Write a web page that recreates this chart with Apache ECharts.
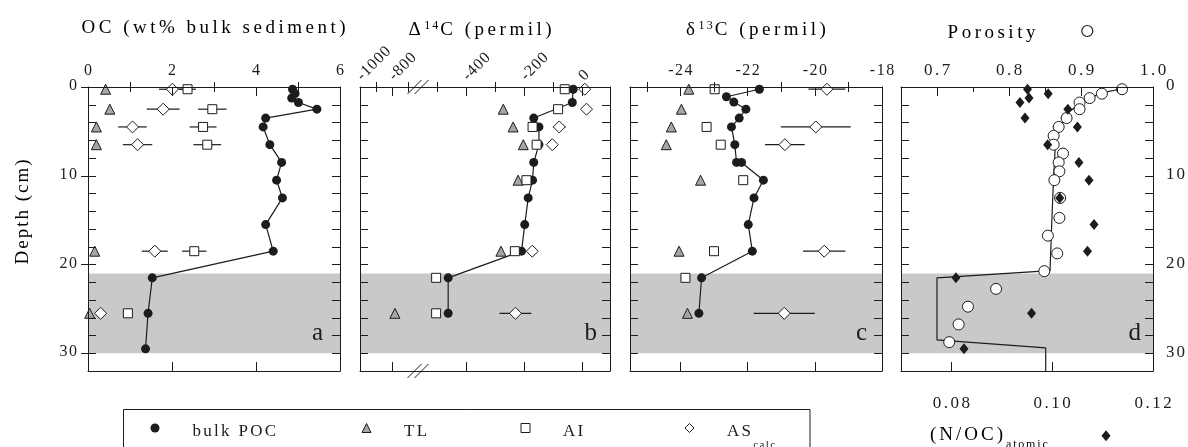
<!DOCTYPE html>
<html lang="en">
<head>
<meta charset="UTF-8" />
<title>Sediment core profiles</title>
<script src="https://cdn.jsdelivr.net/npm/echarts@6/dist/echarts.min.js"></script>
<style>html,body{margin:0;padding:0;background:#fff}</style>
</head>
<body>
<div id="chart" style="width:1188px;height:447px"></div>
<script>
// depths (cm)
const depthPOC = [0.25, 0.75, 1.25, 1.75, 2.5, 3.5, 4.5, 6.5, 8.5, 10.5, 12.5, 15.5, 18.5, 21.5, 25.5, 29.5]
const depthFrac = [0.25, 2.5, 4.5, 6.5, 18.5, 25.5]
const depthTicks = [0, 2, 4, 6, 8, 10, 12, 14, 16, 18, 20, 22, 24, 26, 28, 30, 32]
const depthLabels = [0, 10, 20, 30]
const turbidite = [21, 30]

// a: OC (wt% bulk sediment)
const ocPOC = [4.87, 4.93, 4.85, 5.01, 5.45, 4.23, 4.17, 4.33, 4.61, 4.49, 4.63, 4.23, 4.41, 1.53, 1.43, 1.37]
const ocTL = [0.42, 0.52, 0.2, 0.2, 0.16, 0.04]
const ocAI = [2.37, 2.96, 2.74, 2.84, 2.53, 0.95]
const ocAIerr = [0.2, 0.34, 0.32, 0.33, 0.29, 0]
const ocAS = [2.01, 1.79, 1.06, 1.18, 1.59, 0.3]
const ocASerr = [0.32, 0.39, 0.34, 0.35, 0.31, 0]

// b: Δ14C (permil)
const d14Depth = [0.25, 1.75, 3.5, 4.5, 6.5, 8.5, 10.5, 12.5, 15.5, 18.5, 21.5, 25.5]
const d14POC = [-30, -33, -166, -148, -148, -166, -170, -185, -197, -208, -461, -461]
const d14TLDepth = [2.5, 4.5, 6.5, 10.5, 18.5, 25.5]
const d14TL = [-271, -237, -202, -220, -279, -781]
const d14AIDepth = [0.25, 2.5, 4.5, 6.5, 10.5, 18.5, 21.5, 25.5]
const d14AI = [-59, -82, -170, -156, -191, -231, -505, -505]
const d14AIerr = [16, 0, 0, 0, 0, 0, 0, 0]
const d14AS = [10, 16, -78, -102, -171, -229]
const d14ASerr = [0, 0, 22, 0, 0, 55]

// c: δ13C (permil)
const d13Depth = [0.25, 1.1, 1.7, 2.5, 3.5, 4.5, 6.5, 8.5, 8.5, 10.5, 12.5, 15.5, 18.5, 21.5, 25.5]
const d13POC = [-21.65, -22.63, -22.41, -22.05, -22.25, -22.48, -22.38, -22.33, -22.18, -21.53, -21.81, -21.98, -21.86, -23.37, -23.45]
const d13TLDepth = [0.25, 2.5, 4.5, 6.5, 10.5, 18.5, 25.5]
const d13TL = [-23.75, -23.97, -24.27, -24.42, -23.4, -24.04, -23.79]
const d13AIDepth = [0.25, 4.5, 6.5, 10.5, 18.5, 21.5]
const d13AI = [-22.98, -23.22, -22.8, -22.13, -23.0, -23.85]
const d13ASDepth = [0.25, 4.5, 6.5, 18.5, 25.5]
const d13AS = [-19.64, -19.97, -20.89, -19.72, -20.91]
const d13ASerr = [0.55, 1.04, 0.59, 0.63, 0.91]

// d: porosity and (N/OC) atomic
const porDepth = [0.25, 0.75, 1.25, 1.75, 2.5, 3.5, 4.5, 5.5, 6.5, 7.5, 8.5, 9.5, 10.5, 12.5, 14.75, 16.75, 18.75, 20.75, 22.75, 24.75, 26.75, 28.75]
const porosity = [0.957, 0.929, 0.912, 0.898, 0.898, 0.88, 0.869, 0.862, 0.862, 0.875, 0.869, 0.87, 0.863, 0.871, 0.87, 0.854, 0.867, 0.849, 0.782, 0.743, 0.73, 0.717]
const porFitDepth = [0.2, 0.7, 1.8, 2.9, 4.8, 7.1, 10.1, 14, 20.7, 21.5, 28.5, 29.4, 32]
const porFit = [0.957, 0.927, 0.899, 0.882, 0.868, 0.864, 0.862, 0.86, 0.857, 0.7, 0.7, 0.851, 0.851]
const nocAtomic = [0.0951, 0.0992, 0.0954, 0.0936, 0.1031, 0.0946, 0.105, 0.0991, 0.1053, 0.1073, 0.1015, 0.1083, 0.107, 0.0809, 0.0959, 0.0825]

const INK = '#1c1c1c'
const SERIF = '"Liberation Serif", "DejaVu Serif", serif'
const SHADE = '#c8c9cb'

// broken Δ14C scale: -1000..-700 squeezed, a gap, then -500..+100 linear
function brk(v) {
  if (v >= -500) return v
  if (v >= -700) return -600 + (v + 700) * 0.5
  return -600 + (v + 700) * 0.55
}

// letter-spaced rich text, ^{..} superscript, _{..} subscript
function rt(s) {
  const toks = []
  let i = 0
  while (i < s.length) {
    if ((s[i] === '^' || s[i] === '_') && s[i + 1] === '{') {
      const j = s.indexOf('}', i)
      const m = s[i] === '^' ? 'u' : 'd'
      for (const ch of s.slice(i + 2, j)) toks.push([m, ch])
      i = j + 1
    } else {
      toks.push(['c', s[i]])
      i++
    }
  }
  return toks.map(([m, ch], k) => '{' + (k === toks.length - 1 && m === 'c' ? 'e' : m) + '|' + ch + '}').join('')
}
function rich(fs, sp, tall, drop) {
  const pv = tall ? 7 : 0
  const dd = drop == null ? 24 : drop
  const base = { fontFamily: SERIF, fontSize: fs, color: INK, lineHeight: tall ? 24 : fs + 2, verticalAlign: 'top' }
  const small = Math.round(fs * 0.63)
  return {
    c: Object.assign({}, base, { padding: [pv, sp, pv, 0] }),
    e: Object.assign({}, base, { padding: [pv, 0, pv, 0] }),
    u: Object.assign({}, base, { fontSize: small, lineHeight: 12, padding: [6, sp * 0.6, 20, 0] }),
    d: Object.assign({}, base, { fontSize: small, lineHeight: 12, padding: [dd, sp * 0.6, 26 - dd, 0] })
  }
}

const TOP = 87, HEIGHT = 284
const panels = [
  { left: 88, width: 252 },
  { left: 360, width: 250 },
  { left: 630, width: 252 },
  { left: 901, width: 252 }
]
const grid = panels.map(p => ({ left: p.left, top: TOP, width: p.width, height: HEIGHT, outerBoundsMode: 'none' }))

const xAxis = [], yAxis = []
function xAx(g, pos, min, max, major, minor, labels, fmt, lab) {
  const idx = xAxis.length
  xAxis.push({
    type: 'value', gridIndex: g, position: pos, min, max, z: 5,
    axisLine: { show: true, onZero: false, lineStyle: { color: INK, width: 1 } },
    axisTick: { show: true, inside: true, length: 9, customValues: major, lineStyle: { color: INK, width: 1 } },
    axisLabel: labels ? Object.assign({ show: true, customValues: labels, formatter: v => rt(fmt(v)) }, lab) : { show: false },
    splitLine: { show: false }
  })
  if (minor) xAxis.push({
    type: 'value', gridIndex: g, position: pos, min, max, z: 5,
    axisLine: { show: false }, axisLabel: { show: false }, splitLine: { show: false },
    axisTick: { show: true, inside: true, length: 5, customValues: minor, lineStyle: { color: INK, width: 1 } }
  })
  return idx
}
function yAx(g, pos, lab) {
  const idx = yAxis.length
  yAxis.push({
    type: 'value', gridIndex: g, position: pos, inverse: true, min: 0, max: 32, z: 5,
    axisLine: { show: true, onZero: false, lineStyle: { color: INK, width: 1 } },
    axisTick: { show: true, inside: true, length: 8, customValues: depthTicks, lineStyle: { color: INK, width: 1 } },
    axisLabel: lab ? Object.assign({ show: true, customValues: depthLabels, formatter: v => rt(String(v)) }, lab) : { show: false },
    splitLine: { show: false }
  })
  return idx
}

// panel a
const aTop = xAx(0, 'top', 0, 6, [0, 2, 4, 6], [1, 3, 5], [0, 2, 4, 6], String, { margin: 6, rich: rich(16, 1.5) })
xAx(0, 'bottom', 0, 6, [2, 4], [1, 3, 5])
const aLeft = yAx(0, 'left', { margin: 11, rich: rich(16, 1.5) })
yAx(0, 'right')
yAxis.push({
  type: 'value', gridIndex: 0, position: 'left', inverse: true, min: 0, max: 32, z: 5,
  axisLine: { show: false }, axisLabel: { show: false }, splitLine: { show: false },
  axisTick: { show: true, inside: false, length: 7, customValues: depthLabels, lineStyle: { color: INK } }
})

// panel b (broken axis)
const bLabelVals = [-1000, -800, -400, -200, 0]
const bMajor = [-800, -400, -200, 0]
const bMinor = [-900, -700, -500, -300, -100]
const bName = {}
bLabelVals.forEach(v => { bName[brk(v).toFixed(2)] = String(v) })
const bFmt = u => bName[Number(u).toFixed(2)] || ''
const bTop = xAx(1, 'top', brk(-1000), 97, bMajor.map(brk), bMinor.map(brk), bLabelVals.map(brk), bFmt,
  { margin: 8, rotate: -45, rich: rich(16, 1) })
xAx(1, 'bottom', brk(-1000), 97, bMajor.map(brk), bMinor.map(brk))
const bLeft = yAx(1, 'left')
yAx(1, 'right')

// panel c
const cTop = xAx(2, 'top', -25.5, -18, [-24, -22, -20], [-25, -23, -21, -19], [-24, -22, -20, -18], String,
  { margin: 6, rich: rich(16, 1.5) })
xAx(2, 'bottom', -25.5, -18, [-24, -22, -20], [-25, -23, -21, -19])
const cLeft = yAx(2, 'left')
yAx(2, 'right')

// panel d
const dTop = xAx(3, 'top', 0.65, 1.0, [0.7, 0.8, 0.9], [0.75, 0.85, 0.95], [0.7, 0.8, 0.9, 1.0], v => v.toFixed(1),
  { margin: 6, rich: rich(17, 2.5) })
const dBot = xAx(3, 'bottom', 0.07, 0.12, [0.08, 0.1], null, [0.08, 0.1, 0.12], v => v.toFixed(2),
  { margin: 24, rich: rich(17, 2.5) })
const dLeft = yAx(3, 'left')
yAx(3, 'right', { margin: 13, rich: rich(17, 2) })

const shade = {
  silent: true,
  itemStyle: { color: SHADE },
  data: [[{ yAxis: turbidite[0] }, { yAxis: turbidite[1] }]]
}
const series = []
const pts = (xs, ds, f) => xs.map((v, i) => [f ? f(v) : v, ds[i]])

function errBars(xi, yi, xs, ds, es, f) {
  const tf = f || (v => v)
  series.push({
    type: 'custom', name: 'err', xAxisIndex: xi, yAxisIndex: yi, silent: true, z: 2,
    data: xs.map((v, i) => [v, ds[i], es[i]]).filter(d => d[2] > 0),
    renderItem(params, api) {
      const v = api.value(0), d = api.value(1), e = api.value(2)
      const p1 = api.coord([tf(v - e), d]), p2 = api.coord([tf(v + e), d])
      return { type: 'line', shape: { x1: p1[0], y1: p1[1], x2: p2[0], y2: p2[1] }, style: { stroke: INK, lineWidth: 1.2 } }
    }
  })
}
function poc(xi, yi, data) {
  series.push({
    name: 'bulk POC', type: 'line', xAxisIndex: xi, yAxisIndex: yi, data, z: 3,
    symbol: 'circle', symbolSize: 9, itemStyle: { color: INK },
    lineStyle: { color: INK, width: 1.2 }, markArea: shade
  })
}
function marks(name, xi, yi, data, symbol, size, fill) {
  series.push({
    name, type: 'scatter', xAxisIndex: xi, yAxisIndex: yi, data, z: 3,
    symbol, symbolSize: size, itemStyle: { color: fill, borderColor: INK, borderWidth: 1, opacity: 1 }
  })
}
const GREY = '#a6a6a6', WHITE = '#ffffff'

// a
errBars(aTop, aLeft, ocAI, depthFrac, ocAIerr)
errBars(aTop, aLeft, ocAS, depthFrac, ocASerr)
poc(aTop, aLeft, pts(ocPOC, depthPOC))
marks('TL', aTop, aLeft, pts(ocTL, depthFrac), 'triangle', 10, GREY)
marks('AI', aTop, aLeft, pts(ocAI, depthFrac), 'rect', 9, WHITE)
marks('AS_calc', aTop, aLeft, pts(ocAS, depthFrac), 'diamond', 12, WHITE)
// b
errBars(bTop, bLeft, d14AI, d14AIDepth, d14AIerr, brk)
errBars(bTop, bLeft, d14AS, depthFrac, d14ASerr, brk)
poc(bTop, bLeft, pts(d14POC, d14Depth, brk))
marks('TL', bTop, bLeft, pts(d14TL, d14TLDepth, brk), 'triangle', 10, GREY)
marks('AI', bTop, bLeft, pts(d14AI, d14AIDepth, brk), 'rect', 9, WHITE)
marks('AS_calc', bTop, bLeft, pts(d14AS, depthFrac, brk), 'diamond', 12, WHITE)
// c
errBars(cTop, cLeft, d13AS, d13ASDepth, d13ASerr)
poc(cTop, cLeft, pts(d13POC, d13Depth))
marks('TL', cTop, cLeft, pts(d13TL, d13TLDepth), 'triangle', 10, GREY)
marks('AI', cTop, cLeft, pts(d13AI, d13AIDepth), 'rect', 9, WHITE)
marks('AS_calc', cTop, cLeft, pts(d13AS, d13ASDepth), 'diamond', 12, WHITE)
// d
series.push({
  name: 'Porosity fit', type: 'line', xAxisIndex: dTop, yAxisIndex: dLeft, data: pts(porFit, porFitDepth),
  symbol: 'none', lineStyle: { color: INK, width: 1.2 }, z: 2, markArea: shade
})
marks('Porosity', dTop, dLeft, pts(porosity, porDepth), 'circle', 11, WHITE)
series.push({
  name: '(N/OC)atomic', type: 'scatter', xAxisIndex: dBot, yAxisIndex: dLeft, data: pts(nocAtomic, depthPOC), z: 4,
  symbol: 'diamond', symbolSize: [9, 11], itemStyle: { color: INK, opacity: 1 }
})

// legend: one entry per legend component, placed along the framed row
const legendNames = ['bulk POC', 'TL', 'AI', 'AS_calc']
const legendText = ['bulk POC', 'TL', 'AI', 'AS_{calc}']
const legendIcons = ['circle', 'triangle', 'rect', 'diamond']
const legendFill = [INK, GREY, WHITE, WHITE]
const legendX = [155, 366, 525, 689]
const legend = legendNames.map((n, i) => ({
  left: legendX[i] - 4.5, top: 416, padding: 0, itemWidth: 9, itemHeight: 9, selectedMode: false,
  textStyle: { rich: rich(17, 2.3, true), padding: [0, 0, 0, 28] },
  formatter: () => rt(legendText[i]),
  data: [{ name: n, icon: legendIcons[i], itemStyle: { color: legendFill[i], borderColor: INK, borderWidth: i ? 1 : 0 } }]
}))

const chart = echarts.init(document.getElementById('chart'), null, { renderer: 'canvas' })
chart.setOption({
  animation: false,
  backgroundColor: '#ffffff',
  grid, xAxis, yAxis, series, legend
})

// decorations placed from the axes
const BREAK_U = -565
const bx = chart.convertToPixel({ xAxisIndex: bTop }, BREAK_U)
const yT = chart.convertToPixel({ yAxisIndex: bLeft }, 0)
const yB = chart.convertToPixel({ yAxisIndex: bLeft }, 32)
const slash = (cx, cy) => [-3.5, 3.5].map(o => ({
  type: 'line', z: 20,
  shape: { x1: cx + o - 7, y1: cy + 7, x2: cx + o + 7, y2: cy - 7 },
  style: { stroke: INK, lineWidth: 1 }
}))
const title = (x, y, s, fs, sp) => ({
  type: 'text', x, y, z: 20,
  style: { text: rt(s), rich: rich(fs, sp, true), align: 'center', verticalAlign: 'middle' }
})
const letterX = [323, 597, 867, 1141]
chart.setOption({
  graphic: [
    title(213.5, 24, 'OC (wt% bulk sediment)', 19, 3.5),
    title(480, 26, 'Δ^{14}C (permil)', 19, 3.5),
    title(756, 25.5, 'δ^{13}C (permil)', 19, 3.5),
    title(991.5, 29, 'Porosity', 19, 3.5),
    { type: 'circle', z: 20, shape: { cx: 1087.3, cy: 31, r: 5.5 }, style: { fill: WHITE, stroke: INK, lineWidth: 1.2 } },
    { type: 'text', x: 930, y: 431, z: 20, style: { text: rt('(N/OC)_{atomic}'), rich: rich(19, 3, true, 20), align: 'left', verticalAlign: 'middle' } },
    { type: 'polygon', z: 20, shape: { points: [[1106, 430.2], [1110.5, 435.7], [1106, 441.2], [1101.5, 435.7]] }, style: { fill: INK } },
    { type: 'text', x: 18.5, y: 212, rotation: Math.PI / 2, z: 20, style: { text: rt('Depth (cm)'), rich: rich(19, 2, true), align: 'center', verticalAlign: 'middle' } },
    { type: 'rect', z: 20, shape: { x: 123.5, y: 409.5, width: 686.5, height: 60 }, style: { fill: 'none', stroke: INK, lineWidth: 1 } },
    ...['a', 'b', 'c', 'd'].map((t, i) => ({
      type: 'text', x: letterX[i], y: 333, z: 20,
      style: { text: t, font: '25px "Liberation Serif"', fill: INK, align: 'right', verticalAlign: 'middle' }
    })),
    ...slash(bx, yT),
    ...slash(bx, yB)
  ]
})
</script>
</body>
</html>
